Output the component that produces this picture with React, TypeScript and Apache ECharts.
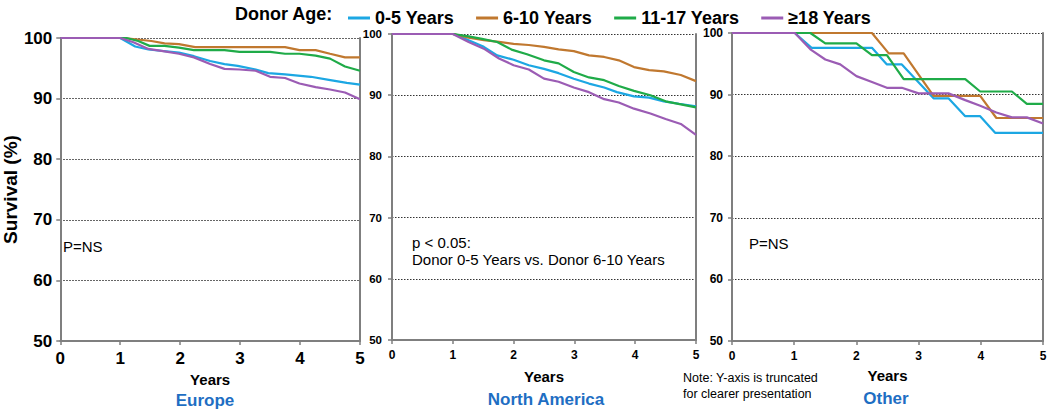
import React, { useEffect, useRef } from "react";
import * as echarts from "echarts";

const groups = ["0-5 Years", "6-10 Years", "11-17 Years", "≥18 Years"];
const colors = ["#1ca7e3", "#c0782f", "#1fab48", "#9b5cb4"];
const regions = ["Europe", "North America", "Other"];
const xTicks = [0, 1, 2, 3, 4, 5];
const yTicks = [50, 60, 70, 80, 90, 100];

// Europe
const europe05 = [[0,100],[1.0,100],[1.25,98.6],[1.47,98.1],[1.98,97.6],[2.23,97.0],[2.5,96.2],[2.74,95.7],[2.96,95.4],[3.26,94.8],[3.47,94.2],[3.75,94.0],[4.18,93.6],[4.48,93.1],[4.78,92.6],[5,92.3]];
const europe610 = [[0,100],[1.05,100],[1.52,99.5],[1.74,99.1],[1.98,99.0],[2.25,98.5],[3.75,98.5],[3.99,98.0],[4.26,98.0],[4.5,97.4],[4.75,96.8],[5,96.8]];
const europe1117 = [[0,100],[1.1,100],[1.3,99.5],[1.49,98.7],[1.74,98.7],[1.98,98.4],[2.23,98.0],[2.74,98.0],[2.99,97.7],[3.5,97.7],[3.75,97.4],[3.99,97.4],[4.26,97.1],[4.5,96.6],[4.75,95.3],[5,94.6]];
const europe18 = [[0,100],[1.0,100],[1.22,99.3],[1.47,98.2],[1.74,97.8],[1.98,97.4],[2.23,96.8],[2.5,95.7],[2.74,94.9],[2.99,94.8],[3.26,94.6],[3.5,93.6],[3.75,93.4],[3.99,92.5],[4.26,91.9],[4.5,91.5],[4.75,91.0],[5,89.9]];

// North America
const na05 = [[0,100],[1.02,100],[1.51,97.9],[1.73,96.5],[2.0,95.8],[2.25,94.9],[2.5,94.3],[2.74,93.6],[2.99,92.7],[3.24,91.9],[3.49,91.25],[3.7,90.5],[3.98,89.8],[4.23,89.6],[4.47,89.0],[4.72,88.6],[5,88.2]];
const na610 = [[0,100],[1.0,100],[1.26,99.4],[1.51,99.0],[1.76,98.7],[2.0,98.4],[2.25,98.2],[2.5,97.9],[2.74,97.5],[2.99,97.2],[3.24,96.5],[3.49,96.25],[3.73,95.7],[3.98,94.6],[4.23,94.1],[4.47,93.9],[4.75,93.3],[5,92.3]];
const na1117 = [[0,100],[1.0,100],[1.26,99.6],[1.48,99.2],[1.73,98.7],[1.98,97.4],[2.22,96.7],[2.5,95.7],[2.74,95.2],[2.99,93.8],[3.24,92.9],[3.49,92.45],[3.73,91.5],[3.98,90.7],[4.25,90.0],[4.5,89.0],[4.75,88.5],[5,88.0]];
const na18 = [[0,100],[1.0,100],[1.26,98.7],[1.51,97.6],[1.76,96.0],[2.0,94.9],[2.25,94.2],[2.5,92.7],[2.74,92.2],[2.99,91.25],[3.24,90.5],[3.49,89.35],[3.73,88.8],[3.98,87.8],[4.25,87.0],[4.5,86.1],[4.75,85.3],[5,83.5]];

// Other
const other05 = [[0,100],[1.01,100],[1.28,97.6],[2.25,97.6],[2.49,94.9],[2.73,94.9],[3.24,89.4],[3.48,89.4],[3.75,86.5],[3.99,86.5],[4.23,83.8],[5,83.8]];
const other610 = [[0,100],[2.25,100],[2.52,96.7],[2.76,96.7],[3.24,89.8],[3.99,89.8],[4.25,86.2],[5,86.2]];
const other1117 = [[0,100],[1.26,100],[1.5,98.3],[2.0,98.3],[2.25,96.4],[2.49,96.4],[2.76,92.5],[3.75,92.5],[3.99,90.5],[4.5,90.5],[4.74,88.5],[5,88.5]];
const other18 = [[0,100],[1.01,100],[1.26,97.35],[1.5,95.7],[1.74,94.9],[2.0,93.0],[2.25,92.05],[2.49,91.1],[2.73,91.1],[3.0,90.2],[3.48,90.2],[3.75,89.1],[3.99,88.2],[4.25,87.1],[4.5,86.3],[4.74,86.3],[5,85.3]];

const panelData = [
  [europe05, europe610, europe1117, europe18],
  [na05, na610, na1117, na18],
  [other05, other610, other1117, other18],
];

const FONT = "'Liberation Sans', Arial, sans-serif";
const AXIS_GRAY = "#7f7f7f";

export default function App() {
  const ref = useRef<HTMLDivElement>(null);

  useEffect(() => {
    if (!ref.current) return;
    const chart = echarts.init(ref.current, undefined, { renderer: "svg" });

    const grids = [
      { left: 53, top: 38, width: 307, height: 303 },
      { left: 392, top: 34, width: 304, height: 306 },
      { left: 732, top: 33, width: 311, height: 308 },
    ];
    const labelSizes = [17, 11.5, 12];
    const xLabelSizes = [17, 12, 12];
    const yMargins = [8, 10, 9];
    const xNameGaps = [31, 29, 27];

    const xAxes: any[] = [];
    const yAxes: any[] = [];
    const series: any[] = [];

    grids.forEach((g, i) => {
      xAxes.push({
        type: "value",
        gridIndex: i,
        min: 0,
        max: 5,
        interval: 1,
        name: "Years",
        nameLocation: "middle",
        nameGap: xNameGaps[i],
        nameTextStyle: { fontFamily: FONT, fontWeight: "bold", fontSize: 15, color: "#000" },
        axisLine: { show: true, onZero: false, lineStyle: { color: AXIS_GRAY, width: 2 } },
        axisTick: { show: true, inside: false, length: 4, lineStyle: { color: AXIS_GRAY, width: 1.5 } },
        axisLabel: {
          fontFamily: FONT,
          fontWeight: "bold",
          fontSize: xLabelSizes[i],
          color: "#000",
          margin: 9,
          formatter: (v: number) => (xTicks.includes(v) ? String(v) : ""),
        },
        splitLine: { show: false },
      });
      yAxes.push({
        type: "value",
        gridIndex: i,
        min: 50,
        max: 100,
        interval: 10,
        name: i === 0 ? "Survival (%)" : "",
        nameLocation: "middle",
        nameGap: 27,
        nameTextStyle: { fontFamily: FONT, fontWeight: "bold", fontSize: 19, color: "#000" },
        axisLine: { show: true, lineStyle: { color: AXIS_GRAY, width: 2 } },
        axisTick: { show: true, inside: false, length: 4, lineStyle: { color: AXIS_GRAY, width: 1.5 } },
        axisLabel: {
          fontFamily: FONT,
          fontWeight: "bold",
          fontSize: labelSizes[i],
          color: "#000",
          margin: yMargins[i],
          formatter: (v: number) => (yTicks.includes(v) ? String(v) : ""),
        },
        splitLine: { show: true, lineStyle: { color: "#333", width: 1, type: [1.5, 1.5] } },
      });
      yAxes.push({
        type: "value",
        gridIndex: i,
        position: "right",
        min: 50,
        max: 100,
        axisLine: { show: true, lineStyle: { color: AXIS_GRAY, width: 2 } },
        axisTick: { show: false },
        axisLabel: { show: false },
        splitLine: { show: false },
      });
      panelData[i].forEach((d, k) => {
        series.push({
          type: "line",
          name: groups[k],
          xAxisIndex: i,
          yAxisIndex: i * 2,
          data: d,
          showSymbol: false,
          symbol: "none",
          lineStyle: { color: colors[k], width: 2.2 },
          itemStyle: { color: colors[k] },
          z: 3 + k,
        });
      });
    });

    const text = (x: number, y: number, t: string, opts: any = {}) => ({
      type: "text",
      x,
      y,
      style: {
        text: t,
        fontFamily: FONT,
        fontSize: 15,
        fill: "#000",
        verticalAlign: "middle",
        align: "left",
        ...opts,
      },
    });

    const regionX = [205, 546, 886];
    const regionY = [400, 399, 398];

    chart.setOption({
      animation: false,
      grid: grids.map((g) => ({ ...g, containLabel: false })),
      xAxis: xAxes,
      yAxis: yAxes,
      series,
      legend: {
        data: groups,
        left: 343,
        top: 4,
        itemWidth: 22,
        itemHeight: 3,
        itemGap: 22,
        icon: "rect",
        textStyle: { fontFamily: FONT, fontWeight: "bold", fontSize: 18, color: "#000" },
        selectedMode: false,
      },
      graphic: [
        text(235, 14, "Donor Age:", { fontWeight: "bold", fontSize: 18 }),
        ...regions.map((r, i) =>
          text(regionX[i], regionY[i], r, { fontWeight: "bold", fontSize: 17, fill: "#1e6ec3", align: "center" })
        ),
        text(63, 246, "P=NS"),
        text(412, 242, "p < 0.05:"),
        text(412, 259, "Donor 0-5 Years vs. Donor 6-10 Years"),
        text(749, 243.5, "P=NS"),
        text(683, 378, "Note: Y-axis is truncated", { fontSize: 12.5 }),
        text(683, 394, "for clearer presentation", { fontSize: 12.5 }),
      ],
    });

    return () => chart.dispose();
  }, []);

  return (
    <div
      ref={ref}
      style={{ position: "absolute", left: 0, top: 0, width: 1050, height: 413, background: "#fff" }}
    />
  );
}
